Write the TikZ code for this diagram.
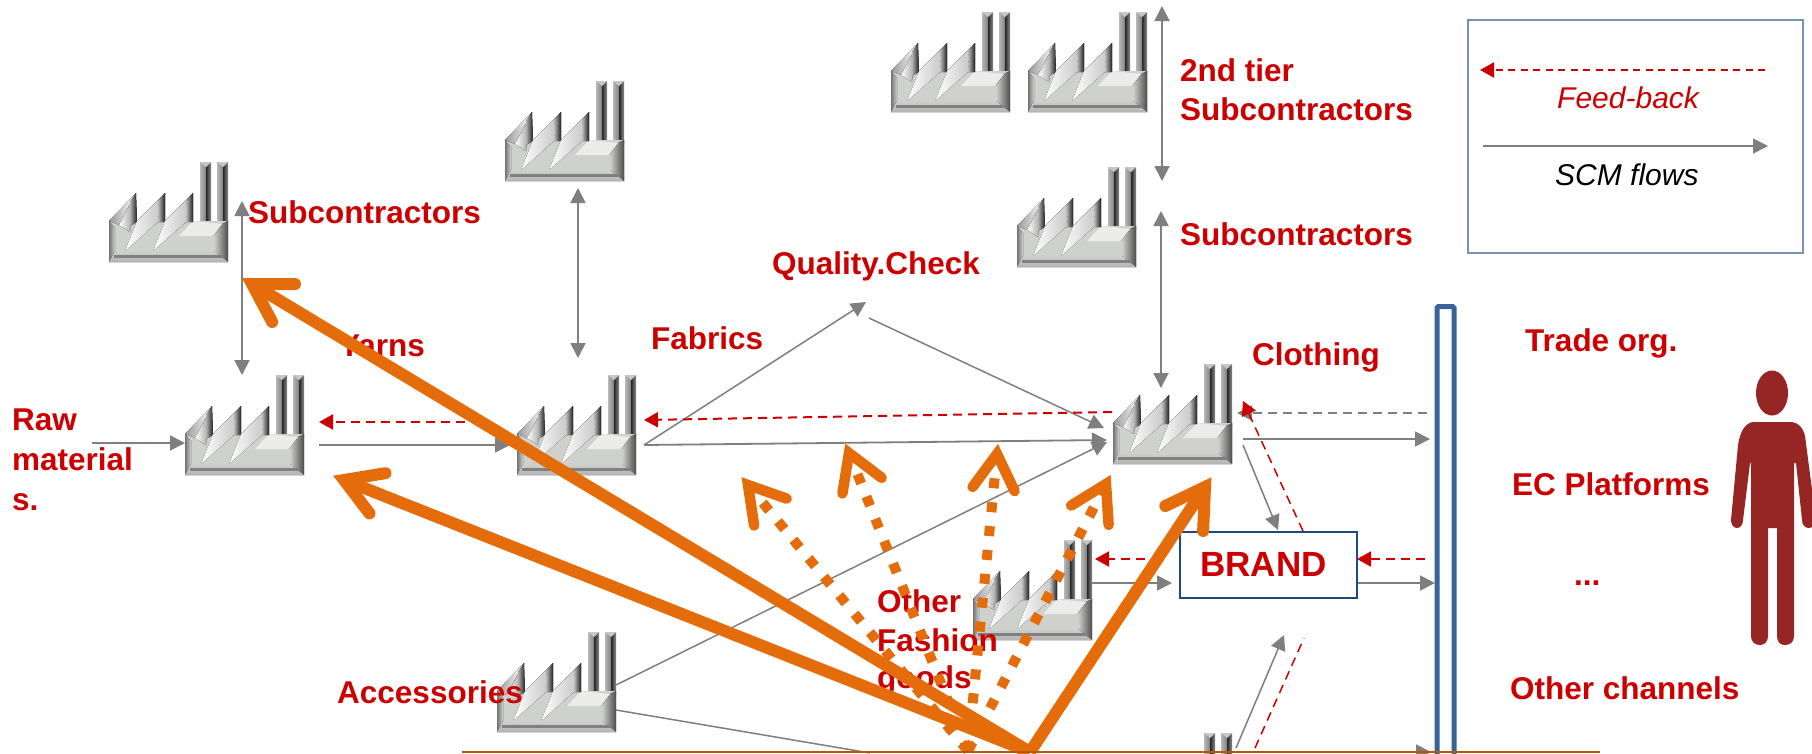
\documentclass[tikz,border=0pt]{standalone}
\usepackage{fontspec}
\setmainfont{Liberation Sans}
\usetikzlibrary{arrows.meta,calc}
\definecolor{rd}{HTML}{CC0000}
\definecolor{gy}{HTML}{7F7F7F}
\definecolor{og}{HTML}{E46C0A}
\definecolor{bl}{HTML}{3B6397}
\definecolor{bd}{HTML}{1F497D}
\definecolor{man}{HTML}{952624}
\definecolor{fb}{HTML}{CFD1CD}
\tikzset{
 flow/.style={draw=gy,line width=1.8pt,-{Triangle[length=15pt,width=15pt]}},
 flowboth/.style={draw=gy,line width=1.8pt,{Triangle[length=15pt,width=15pt]}-{Triangle[length=15pt,width=15pt]}},
 flowthin/.style={draw=gy,line width=1.5pt,-{Triangle[length=15pt,width=15pt]}},
 flowplain/.style={draw=gy,line width=1.5pt},
 flowdash/.style={draw=gy,line width=1.8pt,dash pattern=on 9pt off 6pt,-{Triangle[length=15pt,width=15pt]}},
 fback/.style={draw=rd,line width=2pt,dash pattern=on 9pt off 6pt,-{Triangle[length=14pt,width=15pt]}},
 fbackthin/.style={draw=rd,line width=1.5pt,dash pattern=on 9pt off 6pt,-{Triangle[length=14pt,width=15pt]}},
 fplain/.style={draw=rd,line width=1.5pt,dash pattern=on 9pt off 6pt},
 lbl/.style={text=rd,anchor=base west,inner sep=0pt,font=\fontsize{31.5}{36}\selectfont\bfseries},
 ital/.style={anchor=base west,inner sep=0pt,font=\fontsize{30}{34}\selectfont\itshape},
 solidshaft/.style={draw=og,line width=12pt},
 solidhead/.style={draw=og,line width=12pt,line cap=round,line join=miter,miter limit=10},
 dotshaft/.style={draw=og,line width=10pt,dash pattern=on 10pt off 14pt},
 dothead/.style={draw=og,line width=10.5pt,line cap=round,line join=miter,miter limit=10},
 factory/.pic={
  \foreach \c in {91,108}{
   \fill[left color=black!28,right color=black!50] (\c,0) rectangle (\c+6,62);
   \fill[left color=black!85,right color=black!45] (\c+6,0) rectangle (\c+11,62);
   \fill[black!22] (\c,0)--(\c+11,0)--(\c+6,5)--cycle;
  }
  \fill[fb] (0,59)--(27,31)--(28,59)--(56,31)--(56,59)--(84,31)--(84,59)--(119,59)--(119,100)--(0,100)--cycle;
  \fill[left color=black!55,right color=fb] (0,59)--(6,66)--(6,90)--(0,100)--cycle;
  \fill[left color=fb,right color=black!70] (105,74)--(113,62)--(119,59)--(119,100)--(105,90)--cycle;
  \fill[top color=fb,bottom color=black!30] (0,100)--(6,89)--(105,89)--(119,100)--cycle;
  \fill[black!50] (5,93) rectangle (114,95.5);
  \fill[white!60!fb] (70,74)--(84,59)--(113,62)--(103,74)--cycle;
  \fill[left color=black!40,right color=white] (0,59)--(27,31)--(10,63)--cycle;
  \fill[left color=white,right color=black!45] (27,31)--(10,63)--(21,70)--(22,59)--cycle;
  \fill[left color=black!30,right color=black!88] (21,40)--(27,31)--(28,60)--(21,64)--cycle;
  \foreach \p in {56,84}{
   \fill[left color=white,right color=black!25] (\p,31)--(\p-28,59)--(\p-40,89)--(\p-7,60)--cycle;
   \fill[left color=black!25,right color=black!88] (\p-6,38)--(\p,31)--(\p,60)--(\p-7,60)--cycle;
  }
 }
}
\newcommand{\orarrow}[6]{% shaft style, head style, start, apex, length, half-angle
 \draw[#1] (#3) -- (#4);
 \draw[#2] ($(#4)!#5!#6:(#3)$) -- (#4) -- ($(#4)!#5!-#6:(#3)$);
}
\begin{document}
\begin{tikzpicture}[x=1pt,y=-1pt]
\useasboundingbox (0,0) rectangle (1812,753);
\clip (0,0) rectangle (1812,753);
\fill[white] (0,0) rectangle (1812,753);

% named connector ends
\coordinate (rawEnd) at (92,443);
\coordinate (yarnIn) at (185,443);
\coordinate (yarnOut) at (319,445);
\coordinate (fabIn) at (510,445);
\coordinate (fabOut) at (644,445);
\coordinate (cloIn) at (1107,440);
\coordinate (qc) at (866,302);
\coordinate (qcOut) at (869,318);
\coordinate (cloInQ) at (1104,428);
\coordinate (accUp) at (616,685);
\coordinate (cloInA) at (1107,442);
\coordinate (accLow) at (616,710);
\coordinate (accEnd) at (870,753);
\coordinate (fbCloOut) at (1112,412);
\coordinate (fbFabIn) at (644,420);
\coordinate (fbFabOut) at (480,422);
\coordinate (fbYarnIn) at (319,422);
\coordinate (subA) at (242,201);
\coordinate (subB) at (242,375);
\coordinate (midA) at (578,188);
\coordinate (midB) at (578,358);
\coordinate (subcA) at (1161,211);
\coordinate (subcB) at (1161,388);
\coordinate (topA) at (1162,6);
\coordinate (topB) at (1162,181);
\coordinate (tradeFb) at (1427,413);
\coordinate (cloFb) at (1237,413);
\coordinate (cloOut) at (1243,439);
\coordinate (tradeIn) at (1430,439);
\coordinate (cloOut2) at (1243,445);
\coordinate (brandTop) at (1278,530);
\coordinate (brandFb) at (1303,531);
\coordinate (cloFb2) at (1243,401);
\coordinate (ecFb) at (1425,559);
\coordinate (brandFbIn) at (1357,559);
\coordinate (brandFbOut) at (1145,559);
\coordinate (fac9Fb) at (1095,559);
\coordinate (fac9Out) at (1090,583);
\coordinate (brandIn) at (1172,583);
\coordinate (brandOut) at (1354,583);
\coordinate (ecIn) at (1435,583);
\coordinate (botOut) at (1236,748);
\coordinate (botTip) at (1284,635);
\coordinate (botFbA) at (1255,748);
\coordinate (botFbB) at (1304,638);
\coordinate (botLineA) at (1300,752);
\coordinate (botLineB) at (1431,752);
\coordinate (legRedA) at (1765,70);
\coordinate (legRedB) at (1480,70);
\coordinate (legGrayA) at (1483,146);
\coordinate (legGrayB) at (1768,146);

% connectors under the factories
\draw[flowplain] (accLow) -- (accEnd);
\draw[flowthin] (accUp) -- (cloInA);
\draw[flowthin] (fabOut) -- (qc);
\draw[flowthin] (qcOut) -- (cloInQ);
\draw[flow] (fabOut) -- (cloIn);
\draw[flow] (rawEnd) -- (yarnIn);
\draw[flow] (yarnOut) -- (fabIn);
\draw[fback] (fbCloOut) -- (fbFabIn);
\draw[fback] (fbFabOut) -- (fbYarnIn);
\draw[flowboth] (subA) -- (subB);
\draw[flowboth] (midA) -- (midB);
\draw[flowboth] (subcA) -- (subcB);
\draw[flowboth] (topA) -- (topB);
\draw[flowdash] (tradeFb) -- (cloFb);
\draw[flow] (cloOut) -- (tradeIn);
\draw[flowthin] (cloOut2) -- (brandTop);
\draw[fbackthin] (brandFb) -- (cloFb2);
\draw[fback] (ecFb) -- (brandFbIn);
\draw[fback] (brandFbOut) -- (fac9Fb);
\draw[flow] (fac9Out) -- (brandIn);
\draw[flow] (brandOut) -- (ecIn);
\draw[flowthin] (botOut) -- (botTip);
\draw[fplain] (botFbA) -- (botFbB);
\draw[flow] (botLineA) -- (botLineB);

% factories
\pic at (109,162) {factory};
\pic at (505,81) {factory};
\pic at (891,12) {factory};
\pic at (1028,12) {factory};
\pic at (1017,167) {factory};
\pic at (185,375) {factory};
\pic at (517,375) {factory};
\pic at (1113,364) {factory};
\pic at (973,540) {factory};
\pic at (497,632) {factory};
\pic at (1113,733) {factory};

% channel bar
\draw[bl,line width=5pt,rounded corners=1.5pt] (1437,780) -- (1437,306.5) -- (1454,306.5) -- (1454,780);

% brand
\node[draw=bd,line width=2pt,fill=white,minimum width=177pt,minimum height=66pt,inner sep=0pt,anchor=north west] (brand) at (1179,531) {};
\node[text=rd,anchor=base west,inner sep=0pt,font=\fontsize{35}{40}\selectfont\bfseries] (brandtxt) at (1200,576) {BRAND};

% labels
\node[lbl] (t1) at (248,223) {Subcontractors};
\node[lbl] (t2) at (339,356) {Yarns};
\node[lbl] (t3) at (651,349) {Fabrics};
\node[lbl] (t4) at (772,274) {Quality.Check};
\node[lbl] (t5) at (1252,365) {Clothing};
\node[lbl] (t6) at (1180,245) {Subcontractors};
\node[lbl] (t7) at (1180,81) {2nd tier};
\node[lbl] (t8) at (1180,120) {Subcontractors};
\node[lbl] (t9) at (12,430) {Raw};
\node[lbl] (t10) at (12,470) {material};
\node[lbl] (t11) at (12,510) {s.};
\node[lbl] (t12) at (337,703) {Accessories};
\node[lbl] (t13) at (877,612) {Other};
\node[lbl] (t14) at (877,651) {Fashion};
\node[lbl] (t15) at (877,688) {goods};
\node[lbl] (t16) at (1525,351) {Trade org.};
\node[lbl] (t17) at (1512,495) {EC Platforms};
\node[lbl] (t18) at (1574,585) {...};
\node[lbl] (t19) at (1510,699) {Other channels};

% person
\fill[man] (1772,393) ellipse (16 and 22.5);
\fill[man] (1753,422) -- (1792,422) .. controls (1799,423) and (1803,428) .. (1805,436)
 -- (1816,520) -- (1816,526) -- (1809,528) .. controls (1805,528) and (1802,525) .. (1802,520)
 -- (1796,463) -- (1794,463) -- (1794,636) .. controls (1794,642) and (1790,645) .. (1785,645)
 .. controls (1780,645) and (1777,642) .. (1777,636) -- (1777,528) -- (1768,528) -- (1768,636)
 .. controls (1768,642) and (1764,645) .. (1760,645) .. controls (1755,645) and (1751,642) .. (1751,636)
 -- (1751,463) -- (1750,463) -- (1743,520) .. controls (1743,525) and (1740,528) .. (1737,528)
 .. controls (1733,528) and (1731,524) .. (1731,520) -- (1738,445) .. controls (1740,432) and (1745,423) .. (1753,422) -- cycle;

% legend
\node[draw=bl!70,line width=1.5pt,fill=white,minimum width=335pt,minimum height=233pt,inner sep=0pt,anchor=north west] (legend) at (1467,19) {};
\draw[fback,dash pattern=on 7pt off 5.5pt] (legRedA) -- (legRedB);
\draw[flow] (legGrayA) -- (legGrayB);
\node[ital,text=rd] (fbk) at (1557,108) {Feed-back};
\node[ital,text=black] (scm) at (1555,185) {SCM flows};

% orange
\coordinate (solidStart) at (1030,752);
\coordinate (dotStart) at (968,751);
\coordinate (apexA) at (252,284);
\coordinate (apexB) at (344,480);
\coordinate (apexC) at (1205,487);
\coordinate (apexD) at (748,485);
\coordinate (apexE) at (849,453);
\coordinate (apexF) at (997,454);
\coordinate (apexG) at (1106,484);
\orarrow{dotshaft}{dothead}{dotStart}{apexD}{41pt}{31}
\orarrow{dotshaft}{dothead}{dotStart}{apexE}{41pt}{31}
\orarrow{dotshaft}{dothead}{dotStart}{apexF}{41pt}{31}
\orarrow{dotshaft}{dothead}{dotStart}{apexG}{41pt}{31}
\orarrow{solidshaft}{solidhead}{solidStart}{apexA}{43pt}{31}
\orarrow{solidshaft}{solidhead}{solidStart}{apexB}{42pt}{31}
\orarrow{solidshaft}{solidhead}{solidStart}{apexC}{44pt}{31}
\coordinate (baseA) at (462,752);
\coordinate (baseB) at (1600,752);
\draw[draw=og!80!black,line width=2pt] (baseA) -- (baseB);
\end{tikzpicture}
\end{document}
